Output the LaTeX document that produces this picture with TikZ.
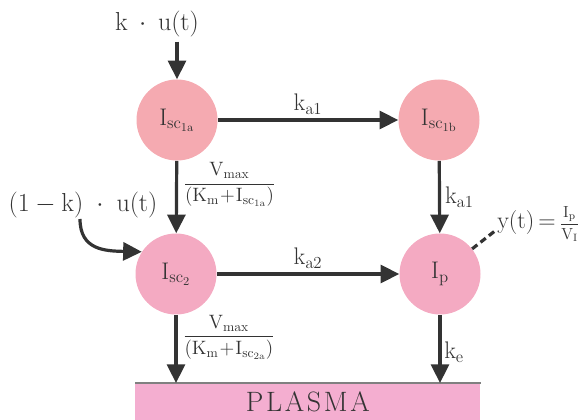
\RequirePackage{fix-cm}
\documentclass[tikz,border=0pt]{standalone}
\usetikzlibrary{arrows.meta}
\definecolor{txt}{HTML}{333333}
\definecolor{topc}{HTML}{F5AAB1}
\definecolor{botc}{HTML}{F4AAC2}
\definecolor{plasmac}{HTML}{F4AED0}
\begin{document}
\begin{tikzpicture}[x=0.75pt,y=-0.75pt, font=\fontsize{18}{21}\selectfont, text=txt,
  comp/.style={circle, minimum size=60.75pt, inner sep=0pt},
  arr/.style={draw=txt, line width=2.4pt, -{Triangle[length=14pt,width=13.5pt]}},
  big/.style={font=\fontsize{19.5}{23}\selectfont},
  frac/.style={font=\fontsize{14.5}{17}\selectfont, inner sep=1pt}]
\useasboundingbox (0,0) rectangle (582,420);
% compartments
\node[comp, fill=topc] (a) at (177,120) {$\mathrm{I_{sc_{1a}}}$};
\node[comp, fill=topc] (b) at (439,120) {$\mathrm{I_{sc_{1b}}}$};
\node[comp, fill=botc] (c) at (176,274) {$\mathrm{I_{sc_2}}$};
\node[comp, fill=botc] (p) at (440,274) {$\mathrm{I_p}$};
% plasma
\node[fill=plasmac, minimum width=258.75pt, minimum height=27.75pt, inner sep=0pt, anchor=north west] (pl) at (135,383) {};
\draw[gray, line width=1.2pt] (pl.north west) -- (pl.north east);
\node at (pl.center) {\fontsize{21}{24}\selectfont P\kern2pt L\kern2pt A\kern2pt S\kern2pt M\kern2pt A};
% inputs
\node[big] (in1) at (157,24) {$\mathrm{k\:\cdot\:u(t)}$};
\draw[arr] (in1.south -| a.north) -- (a.north);
\node[big] (in2) at (83,205) {$\mathrm{(1-k)\;\cdot\;u(t)}$};
\coordinate (s2) at (80,219);
\draw[arr] (s2) .. controls (80,250) and (105,251) .. (c.147);
% transfers
\draw[arr] (a) -- node[above, inner sep=3pt] {$\mathrm{k_{a1}}$} (b);
\draw[arr] (b) -- node[right, inner sep=3pt] {$\mathrm{k_{a1}}$} (p);
\draw[arr] (c) -- node[above, inner sep=3pt] {$\mathrm{k_{a2}}$} (p);
\draw[arr] (a) -- node[frac, pos=0.33, anchor=west, xshift=3pt] {$\displaystyle\frac{\mathrm{V_{max}}}{(\mathrm{K_m}\!+\!\mathrm{I_{sc_{1a}}})}$} (c);
\draw[arr] (c) -- node[frac, pos=0.33, anchor=west, xshift=3pt] {$\displaystyle\frac{\mathrm{V_{max}}}{(\mathrm{K_m}\!+\!\mathrm{I_{sc_{2a}}})}$} (c |- pl.north);
\draw[arr] (p) -- node[right, pos=0.55, inner sep=2pt] {$\mathrm{k_e}$} (p |- pl.north);
% output
\node[anchor=west, inner sep=0pt] (y) at (497,224) {$\mathrm{y(t)\,{=}\,}${\fontsize{12}{14}\selectfont$\displaystyle\mathrm{\frac{I_p}{V_I}}$}};
\draw[txt, line width=2.4pt, dash pattern=on 5pt off 3pt] (p.38) -- ([yshift=-4pt]y.west);
\end{tikzpicture}
\end{document}
